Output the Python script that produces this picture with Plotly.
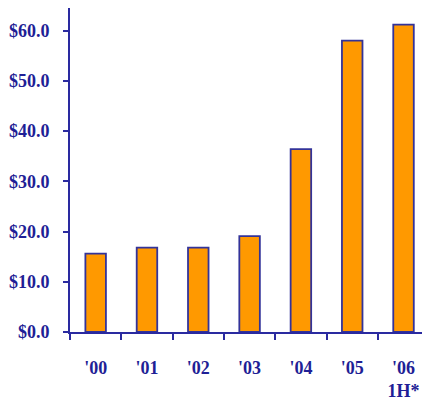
import plotly.graph_objects as go

categories = ["'00", "'01", "'02", "'03", "'04", "'05", "'06<br>1H*"]
values = [15.6, 16.8, 16.8, 19.1, 36.4, 58.0, 61.2]
y_ticks = [0, 10, 20, 30, 40, 50, 60]
y_tick_labels = ["$0.0", "$10.0", "$20.0", "$30.0", "$40.0", "$50.0", "$60.0"]

text_color = "#1f1f96"
line_color = "#2a2aa0"

bold_cats = ["<b>%s</b>" % c.replace("<br>", "</b><br><b>") for c in categories]

fig = go.Figure(go.Bar(
    x=bold_cats,
    y=values,
    width=0.4,
    marker=dict(color="#FF9900", line=dict(color="#333399", width=1.8)),
))

font = dict(family="Liberation Serif, Times New Roman, serif", size=18, color=text_color)

fig.update_layout(
    width=422, height=407,
    margin=dict(l=70, r=0, t=8, b=75),
    paper_bgcolor="white", plot_bgcolor="white",
    showlegend=False,
    font=font,
)
fig.update_xaxes(
    type="category",
    range=[-0.5, 6.36],
    showline=True, linecolor=line_color, linewidth=2,
    ticks="outside", ticklen=6, tickcolor=line_color, tickwidth=2,
    tickson="boundaries",
    ticklabelstandoff=18,
    showgrid=False, zeroline=False,
    tickfont=font,
    automargin=False,
)
fig.update_yaxes(
    range=[0, 64.5],
    tickmode="array",
    tickvals=y_ticks,
    ticktext=["<b>%s</b>" % t for t in y_tick_labels],
    showline=True, linecolor=line_color, linewidth=2,
    ticks="outside", ticklen=5, tickcolor=line_color, tickwidth=2,
    ticklabelstandoff=10,
    showgrid=False, zeroline=False,
    tickfont=font,
    automargin=False,
)

fig.write_html(
    "out.html",
    config={"displayModeBar": False},
    post_script="document.body.style.margin='0';document.body.style.overflow='hidden';",
)
